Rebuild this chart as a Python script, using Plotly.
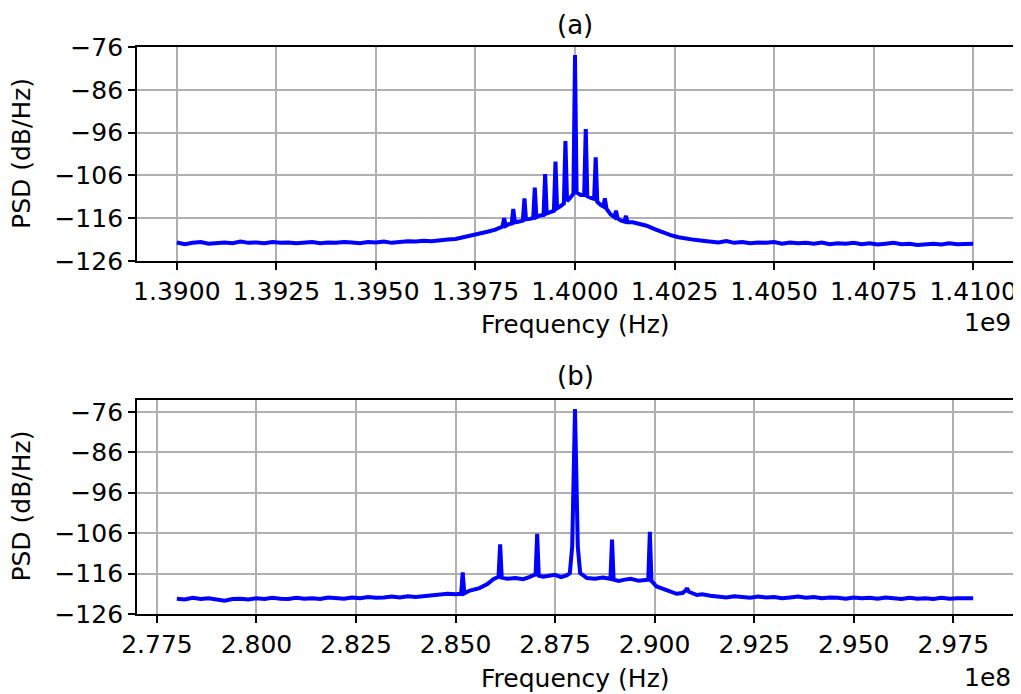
import numpy as np
import plotly.graph_objects as go

# ---------------- Panel (a) data : frequency in MHz, PSD in dB/Hz ----------------
floor_a_left_f = [1390.0, 1390.2, 1390.4, 1390.6, 1390.8, 1391.0, 1391.2, 1391.4, 1391.6, 1391.8,
                  1392.0, 1392.2, 1392.4, 1392.6, 1392.8, 1393.0, 1393.2, 1393.4, 1393.6, 1393.8,
                  1394.0, 1394.2, 1394.4, 1394.6, 1394.8, 1395.0, 1395.2, 1395.4, 1395.6, 1395.8,
                  1396.0, 1396.2, 1396.4, 1396.6, 1396.8, 1397.0]
floor_a_left_p = [-121.7, -122.1, -121.8, -121.6, -122.0, -121.9, -121.7, -121.9, -121.5, -121.8,
                  -121.7, -121.9, -121.6, -121.8, -121.7, -121.9, -121.8, -121.6, -121.9, -121.7,
                  -121.8, -121.6, -121.7, -121.9, -121.6, -121.7, -121.5, -121.8, -121.6, -121.4,
                  -121.5, -121.3, -121.4, -121.1, -121.0, -120.9]

center_a_f = [1397.2, 1397.4, 1397.6, 1397.8, 1398.0, 1398.12,
              1398.18, 1398.22, 1398.26, 1398.35,
              1398.41, 1398.45, 1398.49, 1398.6,
              1398.69, 1398.73, 1398.77, 1398.87,
              1398.95, 1398.99, 1399.03, 1399.12,
              1399.21, 1399.25, 1399.29, 1399.38,
              1399.47, 1399.51, 1399.55, 1399.64,
              1399.72, 1399.76, 1399.80, 1399.88,
              1399.96, 1400.0, 1400.04, 1400.14,
              1400.23, 1400.27, 1400.31, 1400.40,
              1400.48, 1400.52, 1400.56, 1400.65,
              1400.71, 1400.75, 1400.79, 1400.90,
              1400.99, 1401.03, 1401.07, 1401.16,
              1401.24, 1401.28, 1401.32, 1401.45,
              1401.6, 1401.8, 1402.0, 1402.2, 1402.4, 1402.6, 1402.8, 1403.0, 1403.2]
center_a_p = [-120.5, -120.1, -119.8, -119.2, -118.7, -118.2,
              -118.0, -116.0, -117.8, -117.4,
              -117.3, -113.9, -117.0, -116.8,
              -116.6, -111.4, -116.3, -116.2,
              -116.0, -108.9, -115.8, -115.4,
              -115.3, -105.7, -114.9, -114.6,
              -114.3, -102.8, -113.7, -113.2,
              -112.6, -98.0, -112.0, -111.3,
              -110.3, -77.9, -110.0, -110.6,
              -110.6, -95.2, -110.9, -111.3,
              -111.5, -101.8, -112.2, -113.0,
              -113.3, -111.4, -113.8, -115.2,
              -115.8, -114.3, -116.1, -116.6,
              -116.8, -115.5, -117.0, -117.0,
              -117.3, -117.8, -118.6, -119.4, -120.0, -120.5, -120.9, -121.1, -121.3]

floor_a_right_f = [1403.4, 1403.6, 1403.8, 1404.0, 1404.2, 1404.4, 1404.6, 1404.8, 1405.0, 1405.2,
                   1405.4, 1405.6, 1405.8, 1406.0, 1406.2, 1406.4, 1406.6, 1406.8, 1407.0, 1407.2,
                   1407.4, 1407.6, 1407.8, 1408.0, 1408.2, 1408.4, 1408.6, 1408.8, 1409.0, 1409.2,
                   1409.4, 1409.6, 1409.8, 1410.0]
floor_a_right_p = [-121.5, -121.7, -121.4, -121.8, -121.6, -121.9, -121.7, -121.8, -121.6, -122.0,
                   -121.7, -121.9, -121.8, -122.0, -121.7, -122.1, -121.9, -122.0, -121.8, -122.1,
                   -121.9, -122.2, -122.0, -121.8, -122.1, -122.0, -122.3, -122.1, -122.0, -122.2,
                   -121.9, -122.1, -122.0, -122.0]

# ---------------- Panel (b) data : frequency in MHz, PSD in dB/Hz ----------------
floor_b_left_f = [278.0, 278.2, 278.4, 278.6, 278.8, 279.0, 279.2, 279.4, 279.6, 279.8,
                  280.0, 280.2, 280.4, 280.6, 280.8, 281.0, 281.2, 281.4, 281.6, 281.8,
                  282.0, 282.2, 282.4, 282.6, 282.8, 283.0, 283.2, 283.4, 283.6, 283.8,
                  284.0, 284.2]
floor_b_left_p = [-122.2, -122.4, -122.0, -122.3, -122.1, -122.5, -122.7, -122.3, -122.2, -122.4,
                  -122.1, -122.3, -122.0, -122.2, -122.3, -122.0, -122.2, -122.1, -122.3, -121.9,
                  -122.0, -122.2, -121.9, -122.1, -121.8, -122.0, -121.9, -121.7, -121.9, -121.6,
                  -121.8, -121.6]

center_b_f = [284.4, 284.6, 284.8, 285.0, 285.14, 285.18, 285.22, 285.36, 285.6, 285.8, 285.95,
              286.08, 286.12, 286.16, 286.3, 286.5, 286.7, 286.85,
              287.01, 287.05, 287.09, 287.2, 287.35, 287.5, 287.65, 287.8,
              287.87, 287.93, 288.0, 288.07, 288.13, 288.3, 288.5, 288.7,
              288.89, 288.93, 288.97, 289.1, 289.25, 289.4, 289.6,
              289.84, 289.88, 289.92, 290.05, 290.2, 290.4, 290.55, 290.7,
              290.77, 290.81, 290.86, 291.06, 291.2, 291.4]
center_b_p = [-121.5, -121.4, -121.0, -121.1, -121.0, -115.7, -120.9, -120.2, -119.6, -118.6, -117.4,
              -116.8, -108.8, -117.0, -117.3, -117.1, -117.4, -116.9,
              -116.2, -106.2, -116.5, -116.8, -116.6, -116.3, -116.9, -116.4,
              -115.9, -109.3, -75.3, -109.3, -115.9, -117.1, -117.3, -117.0,
              -117.3, -107.6, -117.5, -117.8, -117.5, -117.3, -117.8,
              -117.5, -105.7, -117.8, -119.2, -119.7, -120.4, -121.0, -120.8,
              -120.3, -119.6, -120.5, -121.3, -121.1, -121.5]

floor_b_right_f = [291.6, 291.8, 292.0, 292.2, 292.4, 292.6, 292.8, 293.0, 293.2, 293.4,
                   293.6, 293.8, 294.0, 294.2, 294.4, 294.6, 294.8, 295.0, 295.2, 295.4,
                   295.6, 295.8, 296.0, 296.2, 296.4, 296.6, 296.8, 297.0, 297.2, 297.4,
                   297.6, 297.8, 298.0]
floor_b_right_p = [-121.7, -121.9, -121.6, -121.8, -122.0, -121.7, -121.9, -121.8, -122.1, -121.9,
                   -121.7, -122.0, -121.8, -122.1, -121.9, -122.0, -122.2, -121.9, -122.1, -122.0,
                   -122.2, -121.9, -122.1, -122.3, -122.0, -122.2, -122.1, -122.3, -122.0, -122.2,
                   -122.1, -122.0, -122.1]

# ---------------- Ticks ----------------
ytick_vals = [-126, -116, -106, -96, -86, -76]
ytick_text = ["\u2212126", "\u2212116", "\u2212106", "\u221296", "\u221286", "\u221276"]
xtick_a_labels = ["1.3900", "1.3925", "1.3950", "1.3975", "1.4000", "1.4025", "1.4050", "1.4075", "1.4100"]
xtick_b_labels = ["2.775", "2.800", "2.825", "2.850", "2.875", "2.900", "2.925", "2.950", "2.975"]

xa_hz = np.array(floor_a_left_f + center_a_f + floor_a_right_f) * 1e6
ya = floor_a_left_p + center_a_p + floor_a_right_p
xb_hz = np.array(floor_b_left_f + center_b_f + floor_b_right_f) * 1e6
yb = floor_b_left_p + center_b_p + floor_b_right_p

xtick_a_vals = [float(s) * 1e9 for s in xtick_a_labels]
xtick_b_vals = [float(s) * 1e8 for s in xtick_b_labels]

# page body adds an 8px offset; lay the figure out in window pixels minus that offset
OFF = 8
W, H = 1021 - OFF, 694 - OFF
FONT = "DejaVu Sans"
FS = 25

# plot area = bounding box of both axes (window pixels)
L, R, T, B = 137, 1013, 47, 614.5
PW, PH = R - L, B - T

fig = go.Figure()
fig.add_trace(go.Scatter(x=xa_hz, y=ya, mode="lines", line=dict(color="#0000ff", width=4),
                         xaxis="x", yaxis="y", showlegend=False))
fig.add_trace(go.Scatter(x=xb_hz, y=yb, mode="lines", line=dict(color="#0000ff", width=4),
                         xaxis="x2", yaxis="y2", showlegend=False))

def fy(ypix):
    return (B - ypix) / PH

def fx(xpix):
    return (xpix - L) / PW

ya_dom = [fy(261), 1.0]
yb_dom = [0.0, fy(400)]

axis_common = dict(showline=True, linecolor="black", linewidth=1.8, mirror=True,
                   ticks="outside", ticklen=7, tickwidth=1.6, tickcolor="black",
                   showgrid=True, gridcolor="#b0b0b0", gridwidth=1.6, zeroline=False,
                   automargin=False,
                   tickfont=dict(family=FONT, size=FS, color="black"))

fig.update_layout(
    width=W, height=H,
    margin=dict(l=L - OFF, r=1021 - R, t=T - OFF, b=694 - B, autoexpand=False),
    paper_bgcolor="white", plot_bgcolor="white", showlegend=False,
    xaxis=dict(domain=[0, 1], anchor="y", range=[1.389e9, 1.411e9],
               tickmode="array", tickvals=xtick_a_vals, ticktext=xtick_a_labels, **axis_common),
    yaxis=dict(domain=ya_dom, anchor="x", range=[-126, -76],
               tickmode="array", tickvals=ytick_vals, ticktext=ytick_text, **axis_common),
    xaxis2=dict(domain=[0, 1], anchor="y2", range=[2.77e8, 2.99e8],
                tickmode="array", tickvals=xtick_b_vals, ticktext=xtick_b_labels, **axis_common),
    yaxis2=dict(domain=yb_dom, anchor="x2", range=[-126, -73],
                tickmode="array", tickvals=ytick_vals, ticktext=ytick_text, **axis_common),
)

def ann(text, x, y, xanchor="center", yanchor="middle", angle=0, size=FS):
    fig.add_annotation(text=text, x=fx(x), y=fy(y), xref="paper", yref="paper",
                       xanchor=xanchor, yanchor=yanchor, showarrow=False, textangle=angle,
                       font=dict(family=FONT, size=size, color="black"))

ann("(a)", 575, 25, size=26)
ann("(b)", 575, 376, size=26)
ann("Frequency (Hz)", 575, 325)
ann("Frequency (Hz)", 575, 679)
ann("1e9", 1013, 323, xanchor="right")
ann("1e8", 1013, 678, xanchor="right")
ann("PSD (dB/Hz)", 22, 154, angle=-90)
ann("PSD (dB/Hz)", 22, 507, angle=-90)

fig.write_html("out.html")
